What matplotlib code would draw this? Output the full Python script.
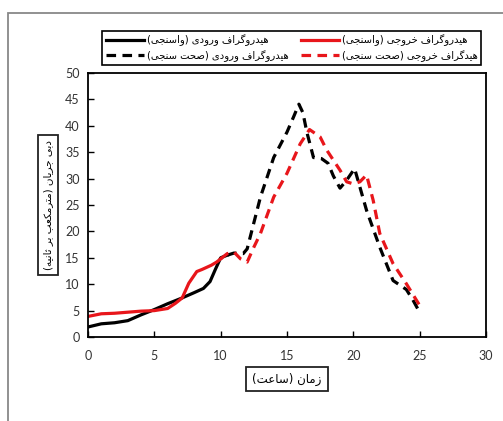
import matplotlib
matplotlib.use("Agg")
import matplotlib.pyplot as plt
from matplotlib.patches import Rectangle

plt.rcParams['font.family'] = ['Lato', 'DejaVu Sans']

# inflow hydrograph, calibration (solid black)
t_in_cal = [0, 1, 2, 3, 4, 5, 6, 7, 8, 8.7, 9.2, 9.6, 10, 10.5]
q_in_cal = [1.9, 2.5, 2.7, 3.1, 4.2, 5.2, 6.3, 7.3, 8.4, 9.2, 10.5, 12.8, 15.0, 15.5]
# inflow hydrograph, validation (dashed black)
t_in_val = [10.5, 11, 11.7, 12, 13, 14, 15, 15.5, 15.9, 16.2, 16.5, 17, 17.6, 18.1, 18.5,
            19, 19.5, 20.1, 20.5, 21, 22, 23, 24, 24.5, 25]
q_in_val = [15.5, 15.9, 15.8, 16.7, 26.5, 34, 38.8, 41.7, 44.1, 42.5, 38.8, 34.0, 33.8, 32.9, 30.5,
            28.2, 29.7, 31.9, 28.4, 24, 17, 10.7, 9, 7, 4.7]
# outflow hydrograph, calibration (solid red)
t_out_cal = [0, 1, 2, 3, 4, 5, 6, 6.6, 7.1, 7.6, 8.2, 8.6, 9.3, 9.7, 10]
q_out_cal = [3.9, 4.4, 4.5, 4.7, 4.9, 5.0, 5.4, 6.4, 7.4, 10.2, 12.4, 12.8, 13.6, 14.2, 14.8]
# outflow hydrograph, validation (dashed red)
t_out_val = [10, 10.5, 11, 11.5, 12, 12.5, 13, 14, 15, 16, 16.7, 17.5, 18, 19, 19.5, 20,
             20.5, 21, 21.5, 22, 23, 24, 25]
q_out_val = [14.8, 15.8, 16.1, 14.8, 14.2, 17, 19.6, 26.5, 31, 36.6, 39.3, 37.9, 35.4, 31.6, 29.4, 29,
             29.4, 30.7, 25.9, 19.6, 13.9, 10.1, 6.0]

lab_in_cal = "هیدروگراف ورودی (واسنجی)"
lab_in_val = "هیدروگراف ورودی (صحت سنجی)"
lab_out_cal = "هیدروگراف خروجی (واسنجی)"
lab_out_val = "هیدگراف خروجی (صحت سنجی)"
xlab = "زمان (ساعت)"
ylab = "دبی جریان (مترمکعب بر ثانیه)"

# matplotlib has no arabic shaping, so pick contextual forms by hand
FORMS = {
    'ا': ('\uFE8D', '\uFE8E'), 'د': ('\uFEA9', '\uFEAA'), 'ر': ('\uFEAD', '\uFEAE'),
    'ز': ('\uFEAF', '\uFEB0'), 'و': ('\uFEED', '\uFEEE'),
    'ب': ('\uFE8F', '\uFE90', '\uFE91', '\uFE92'), 'ت': ('\uFE95', '\uFE96', '\uFE97', '\uFE98'),
    'ث': ('\uFE99', '\uFE9A', '\uFE9B', '\uFE9C'), 'ج': ('\uFE9D', '\uFE9E', '\uFE9F', '\uFEA0'),
    'ح': ('\uFEA1', '\uFEA2', '\uFEA3', '\uFEA4'), 'خ': ('\uFEA5', '\uFEA6', '\uFEA7', '\uFEA8'),
    'س': ('\uFEB1', '\uFEB2', '\uFEB3', '\uFEB4'), 'ص': ('\uFEB9', '\uFEBA', '\uFEBB', '\uFEBC'),
    'ع': ('\uFEC9', '\uFECA', '\uFECB', '\uFECC'), 'ف': ('\uFED1', '\uFED2', '\uFED3', '\uFED4'),
    'م': ('\uFEE1', '\uFEE2', '\uFEE3', '\uFEE4'), 'ن': ('\uFEE5', '\uFEE6', '\uFEE7', '\uFEE8'),
    'ه': ('\uFEE9', '\uFEEA', '\uFEEB', '\uFEEC'), 'ی': ('\uFBFC', '\uFBFD', '\uFBFE', '\uFBFF'),
    'ک': ('\uFB8E', '\uFB8F', '\uFB90', '\uFB91'), 'گ': ('\uFB92', '\uFB93', '\uFB94', '\uFB95'),
}


def fa(s):
    out = []
    for i, c in enumerate(s):
        if c not in FORMS:
            out.append(c)
            continue
        f = FORMS[c]
        prev = i > 0 and s[i - 1] in FORMS and len(FORMS[s[i - 1]]) == 4
        nxt = len(f) == 4 and i + 1 < len(s) and s[i + 1] in FORMS
        if prev and nxt:
            out.append(f[3])
        elif prev:
            out.append(f[1])
        elif nxt:
            out.append(f[2])
        else:
            out.append(f[0])
    vis = ''.join(reversed(out))
    return vis.translate(str.maketrans('()', ')('))


fig = plt.figure(figsize=(5.03, 4.21), dpi=100)
ax = fig.add_axes([0.175, 0.1995, 0.791, 0.627])

dash = (0, (3.0, 2.0))
lw = 2.3
l1, = ax.plot(t_in_cal, q_in_cal, color='black', lw=lw)
l2, = ax.plot(t_in_val, q_in_val, color='black', lw=lw, linestyle=dash)
l3, = ax.plot(t_out_cal, q_out_cal, color='#e8161b', lw=lw)
l4, = ax.plot(t_out_val, q_out_val, color='#e8161b', lw=lw, linestyle=dash)

ax.set_xlim(0, 30)
ax.set_ylim(0, 50)
ax.set_xticks(range(0, 31, 5))
ax.set_yticks(range(0, 51, 5))
ax.tick_params(direction='in', length=4, width=1, labelsize=9, labelcolor='#333333', pad=6)
ax.tick_params(axis='x', pad=9)
for sp in ax.spines.values():
    sp.set_linewidth(1.3)

ax.set_xlabel(fa(xlab), fontsize=8.5, family=['DejaVu Sans'],
              bbox=dict(boxstyle='square,pad=0.5', fc='white', ec='#222222', lw=1.3))
ax.xaxis.set_label_coords(0.5, -0.159)
ax.xaxis.label.set_va('center')
ax.set_ylabel(fa(ylab), fontsize=7.5, family=['DejaVu Sans'],
              bbox=dict(boxstyle='square,pad=0.45', fc='white', ec='#222222', lw=1.3))
ax.yaxis.set_label_coords(-0.1005, 0.5)
ax.yaxis.label.set_va('center')

leg = fig.legend([l1, l2, l3, l4],
                 [fa(lab_in_cal), fa(lab_in_val), fa(lab_out_cal), fa(lab_out_val)],
                 ncol=2, loc='upper right', bbox_to_anchor=(0.966, 0.938),
                 prop={'family': 'DejaVu Sans', 'size': 7.2},
                 handlelength=3.8, handletextpad=0.3, columnspacing=1.2,
                 labelspacing=0.35, borderpad=0.35,
                 fancybox=False, framealpha=1, edgecolor='black')
leg.get_frame().set_linewidth(1.2)

# outer chart-area frame, cut off at the right and bottom in the original
fig.add_artist(Rectangle((0.016, -0.2), 1.2, 0.969 + 0.2, transform=fig.transFigure,
                         fill=False, edgecolor='#888888', lw=1.3))

fig.savefig('out.png', dpi=100)
